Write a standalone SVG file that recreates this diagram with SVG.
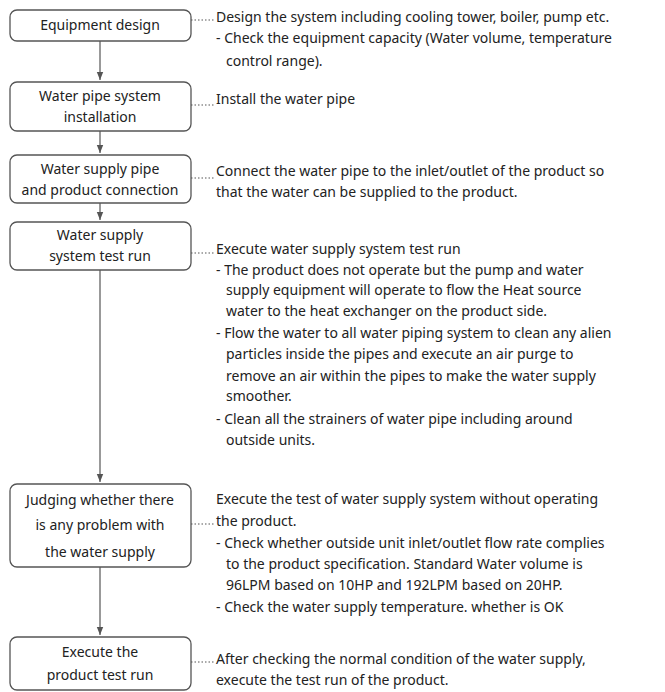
<svg xmlns="http://www.w3.org/2000/svg" width="665" height="692" viewBox="0 0 665 692">
<style>
.b{fill:#fff;stroke:#555;stroke-width:1.3}
.t{font-family:"Noto Sans","Liberation Sans",sans-serif;font-size:14px;fill:#222}
.c{text-anchor:middle}
.l{stroke:#555;stroke-width:1.2;fill:none}
.d{stroke:#555;stroke-width:1.2;stroke-dasharray:1.5 2;fill:none}
</style>
<defs><marker id="a" viewBox="0 0 10 10" refX="10" refY="5" markerWidth="7" markerHeight="7" orient="auto"><path d="M0,1 L10,5 L0,9 z" fill="#555"/></marker></defs>
<rect width="665" height="692" fill="#fff"/>
<g id="connectors">
<path class="l" d="M100,41 V80" marker-end="url(#a)"/>
<path class="l" d="M100,131 V153" marker-end="url(#a)"/>
<path class="l" d="M100,203 V220" marker-end="url(#a)"/>
<path class="l" d="M100,270 V482" marker-end="url(#a)"/>
<path class="l" d="M100,567 V635" marker-end="url(#a)"/>
<path class="d" d="M191,20 H214"/>
<path class="d" d="M191,105 H214"/>
<path class="d" d="M191,178 H214"/>
<path class="d" d="M191,253 H214"/>
<path class="d" d="M191,524 H214"/>
<path class="d" d="M191,662 H214"/>
</g>
<g id="n1"><rect class="b" x="10" y="10" width="181" height="31" rx="7"/><text class="t c" x="100" y="30">Equipment design</text></g>
<g id="n2"><rect class="b" x="10" y="82" width="181" height="49" rx="7"/><text class="t c" x="100" y="101">Water pipe system</text><text class="t c" x="100" y="122">installation</text></g>
<g id="n3"><rect class="b" x="10" y="155" width="181" height="48" rx="7"/><text class="t c" x="100" y="174">Water supply pipe</text><text class="t c" x="100" y="195">and product connection</text></g>
<g id="n4"><rect class="b" x="10" y="222" width="181" height="48" rx="7"/><text class="t c" x="100" y="240">Water supply</text><text class="t c" x="100" y="261">system test run</text></g>
<g id="n5"><rect class="b" x="10" y="484" width="181" height="83" rx="7"/><text class="t c" x="100" y="505">Judging whether there</text><text class="t c" x="100" y="530">is any problem with</text><text class="t c" x="100" y="557">the water supply</text></g>
<g id="n6"><rect class="b" x="10" y="637" width="181" height="53" rx="7"/><text class="t c" x="100" y="657">Execute the</text><text class="t c" x="100" y="680">product test run</text></g>
<g id="notes" class="t">
<text x="216" y="22">Design the system including cooling tower, boiler, pump etc.</text>
<text x="216" y="43">- Check the equipment capacity (Water volume, temperature</text>
<text x="226" y="66">control range).</text>
<text x="216" y="104">Install the water pipe</text>
<text x="216" y="176">Connect the water pipe to the inlet/outlet of the product so</text>
<text x="216" y="197">that the water can be supplied to the product.</text>
<text x="216" y="254">Execute water supply system test run</text>
<text x="216" y="275">- The product does not operate but the pump and water</text>
<text x="226" y="295">supply equipment will operate to flow the Heat source</text>
<text x="226" y="316">water to the heat exchanger on the product side.</text>
<text x="216" y="338">- Flow the water to all water piping system to clean any alien</text>
<text x="226" y="359">particles inside the pipes and execute an air purge to</text>
<text x="226" y="381">remove an air within the pipes to make the water supply</text>
<text x="226" y="401">smoother.</text>
<text x="216" y="424">- Clean all the strainers of water pipe including around</text>
<text x="226" y="445">outside units.</text>
<text x="216" y="504">Execute the test of water supply system without operating</text>
<text x="216" y="526">the product.</text>
<text x="216" y="548">- Check whether outside unit inlet/outlet flow rate complies</text>
<text x="226" y="569">to the product specification. Standard Water volume is</text>
<text x="226" y="590">96LPM based on 10HP and 192LPM based on 20HP.</text>
<text x="216" y="612">- Check the water supply temperature. whether is OK</text>
<text x="216" y="664">After checking the normal condition of the water supply,</text>
<text x="216" y="685">execute the test run of the product.</text>
<text x="216" y="703">To prevent the freezing of the heat exchanger when the</text>
</g>
</svg>
